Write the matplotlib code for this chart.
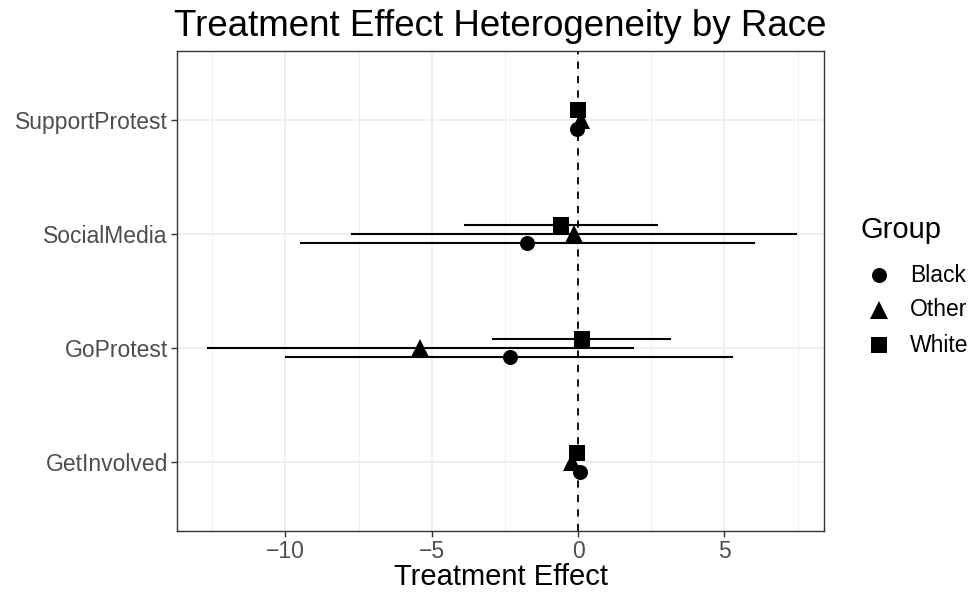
import matplotlib
matplotlib.use("Agg")
import matplotlib.pyplot as plt
from matplotlib.lines import Line2D
import numpy as np

plt.rcParams['font.family'] = ['Liberation Sans', 'DejaVu Sans']

outcomes = ["GetInvolved", "GoProtest", "SocialMedia", "SupportProtest"]
groups = ["Black", "Other", "White"]
markers = {"Black": "o", "Other": "^", "White": "s"}
msizes = {"Black": 10.8, "Other": 12.5, "White": 11.0}

# estimates[group] aligned with outcomes
est = {
    "Black": [0.07, -2.34, -1.73, -0.05],
    "Other": [-0.2, -5.39, -0.14, 0.1],
    "White": [-0.03, 0.13, -0.59, 0.0],
}
lo = {
    "Black": [0.0, -10.01, -9.50, -0.12],
    "Other": [-0.3, -12.68, -7.77, 0.0],
    "White": [-0.1, -2.93, -3.90, -0.08],
}
hi = {
    "Black": [0.14, 5.30, 6.03, 0.02],
    "Other": [-0.1, 1.92, 7.49, 0.2],
    "White": [0.04, 3.16, 2.72, 0.08],
}
offsets = {"Black": -0.08, "Other": 0.0, "White": 0.08}

W, H = 973, 597
fig = plt.figure(figsize=(W/100, H/100), dpi=100)
L, R, T, B = 177, 824, 51, 531
ax = fig.add_axes([L/W, (H-B)/H, (R-L)/W, (B-T)/H])

ypos = np.arange(1, len(outcomes) + 1)

# grid
for x in [-12.5, -7.5, -2.5, 2.5, 7.5]:
    ax.axvline(x, color="#EBEBEB", lw=0.55, zorder=0)
for x in [-10, -5, 0, 5]:
    ax.axvline(x, color="#EBEBEB", lw=1.1, zorder=0)
for y in ypos:
    ax.axhline(y, color="#EBEBEB", lw=1.1, zorder=0)

ax.axvline(0, color="black", lw=1.3, ls=(0, (4, 4)), zorder=1)

for g in groups:
    yy = ypos + offsets[g]
    ax.hlines(yy, lo[g], hi[g], color="black", lw=1.5, zorder=2)
    ax.plot(est[g], yy, ls="none", marker=markers[g], color="black",
            markersize=msizes[g], markeredgewidth=0, zorder=3)

ax.set_xlim(-13.7, 8.4)
ax.set_ylim(0.4, 4.6)
ax.set_xticks([-10, -5, 0, 5])
ax.set_xticklabels(["\u221210", "\u22125", "0", "5"])
ax.set_yticks(ypos)
ax.set_yticklabels(outcomes)
ax.tick_params(axis="both", colors="#333333", labelcolor="#4D4D4D",
               labelsize=16.5, length=4, width=1, pad=2.5)
for s in ax.spines.values():
    s.set_color("#333333")
    s.set_linewidth(1)

ax.set_xlabel("Treatment Effect", fontsize=21, color="black", labelpad=0)
fig.text((L+R)/2/W, 1-26/H, "Treatment Effect Heterogeneity by Race",
         ha="center", va="center", fontsize=26.5)

# legend (manual, ggplot-style)
fig.text(860/W, 1-230/H, "Group", ha="left", va="center", fontsize=21)
leg_y = [275, 310, 345]
for g, yv in zip(groups, leg_y):
    fig.add_artist(Line2D([879/W], [1-yv/H], transform=fig.transFigure,
                          ls="none", marker=markers[g], color="black",
                          markersize=msizes[g], markeredgewidth=0))
    fig.text(910/W, 1-yv/H, g, ha="left", va="center", fontsize=16.5)

fig.savefig("out.png", dpi=100)
